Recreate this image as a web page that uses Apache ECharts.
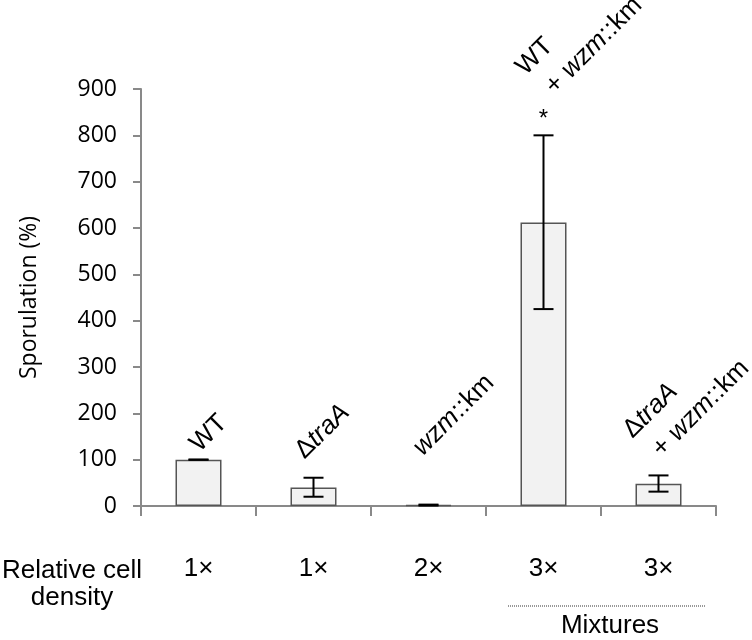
<!DOCTYPE html>
<html>
<head>
<meta charset="utf-8">
<script src="https://cdn.jsdelivr.net/npm/echarts@6/dist/echarts.min.js"></script>
<style>
  html, body { margin: 0; padding: 0; background: #fff; }
  #chart { width: 752px; height: 640px; }
</style>
</head>
<body>
<div id="chart"></div>
<script>
// data
const strains = ['WT', 'Δ{i|traA}', '{i|wzm}::km', 'WT\n + {i|wzm}::km', 'Δ{i|traA}\n + {i|wzm}::km'];
const densities = ['1×', '1×', '2×', '3×', '3×'];
const sporulation = [100, 40, 2, 612, 48];
const errLow = [100, 20, 1, 425, 31];
const errHigh = [100, 61, 3, 800, 66];
const significance = ['', '', '', '*', ''];

// where the rotated strain names sit (px offset from category centre, height in axis units)
const labelDx = [-16, -26, -23, -35, -43];
const labelAt = [152, 137, 144, 965, 182];

const arial = '"Liberation Sans", Arial, sans-serif';
const calibri = '"Open Sans", "Noto Sans", sans-serif';

const chart = echarts.init(document.getElementById('chart'));

chart.setOption({
  animation: false,
  grid: { left: 141, right: 36, top: 89, bottom: 134 },
  xAxis: {
    type: 'category',
    data: densities,
    axisLine: { lineStyle: { color: '#898989', width: 2 } },
    axisTick: { show: true, length: 10, lineStyle: { color: '#898989', width: 2 } },
    axisLabel: { color: '#000', fontSize: 26, fontFamily: arial, margin: 50 }
  },
  yAxis: {
    type: 'value',
    min: 0,
    max: 900,
    interval: 100,
    name: 'Sporulation (%)',
    nameLocation: 'middle',
    nameGap: 100,
    nameTextStyle: { color: '#000', fontSize: 23, fontFamily: calibri },
    axisLine: { show: true, lineStyle: { color: '#898989', width: 2 } },
    axisTick: { show: true, length: 8, lineStyle: { color: '#898989', width: 2 } },
    axisLabel: { color: '#000', fontSize: 23, fontFamily: calibri, margin: 24 },
    splitLine: { show: false }
  },
  series: [
    {
      type: 'bar',
      data: sporulation,
      barWidth: 46,
      itemStyle: { color: '#f2f2f2', borderColor: '#555', borderWidth: 1.5 },
      z: 2
    },
    {
      // error bars and significance marks
      type: 'custom',
      clip: false,
      z: 3,
      data: sporulation.map((v, i) => [i, errLow[i], errHigh[i]]),
      renderItem: function (params, api) {
        const i = api.value(0);
        const lo = api.coord([i, api.value(1)]);
        const hi = api.coord([i, api.value(2)]);
        const cap = 10;
        const stroke = { stroke: '#000', lineWidth: 2 };
        const children = [
          { type: 'line', shape: { x1: lo[0], y1: lo[1], x2: hi[0], y2: hi[1] }, style: stroke },
          { type: 'line', shape: { x1: hi[0] - cap, y1: hi[1], x2: hi[0] + cap, y2: hi[1] }, style: stroke },
          { type: 'line', shape: { x1: lo[0] - cap, y1: lo[1], x2: lo[0] + cap, y2: lo[1] }, style: stroke }
        ];
        if (significance[i]) {
          children.push({
            type: 'text',
            x: hi[0], y: hi[1] - 4,
            style: {
              text: significance[i], fill: '#000',
              font: '24px ' + arial, align: 'center', verticalAlign: 'bottom'
            }
          });
        }
        return { type: 'group', children: children };
      }
    },
    {
      // rotated strain names
      type: 'custom',
      clip: false,
      z: 4,
      data: strains.map((s, i) => [i, labelAt[i]]),
      renderItem: function (params, api) {
        const i = api.value(0);
        const p = api.coord([i, api.value(1)]);
        return {
          type: 'text',
          x: p[0] + labelDx[i],
          y: p[1],
          rotation: Math.PI / 4,
          style: {
            text: strains[i],
            fill: '#000',
            font: '26px ' + arial,
            lineHeight: 34,
            align: 'left',
            verticalAlign: 'top',
            rich: {
              i: { fontStyle: 'italic', fontSize: 26, fontFamily: arial, lineHeight: 34, fill: '#000' }
            }
          }
        };
      }
    }
  ],
  graphic: [
    {
      type: 'text',
      x: 72, y: 557,
      style: {
        text: 'Relative cell\ndensity', fill: '#000',
        font: '26px ' + arial, lineHeight: 27,
        align: 'center', verticalAlign: 'top'
      }
    },
    {
      type: 'line',
      shape: { x1: 508, y1: 606, x2: 705, y2: 606 },
      style: { stroke: '#333', lineWidth: 1, lineDash: [1, 1] }
    },
    {
      type: 'text',
      x: 610, y: 626,
      style: {
        text: 'Mixtures', fill: '#000',
        font: '26px ' + arial,
        align: 'center', verticalAlign: 'middle'
      }
    }
  ]
});
</script>
</body>
</html>
